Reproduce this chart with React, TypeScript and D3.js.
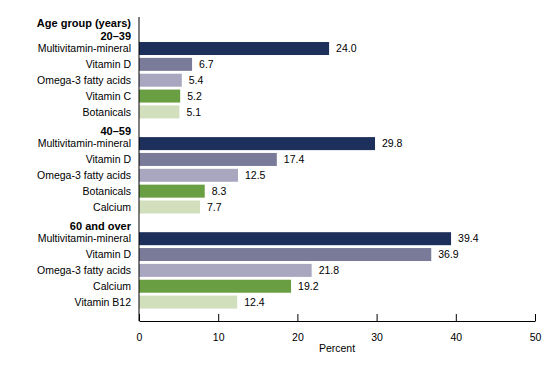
import React, { useEffect, useRef } from "react";
import { select, scaleBand, scaleLinear, axisBottom } from "d3";

const groups = ["20–39", "40–59", "60 and over"];
const supplements = [
  ["Multivitamin-mineral", "Vitamin D", "Omega-3 fatty acids", "Vitamin C", "Botanicals"],
  ["Multivitamin-mineral", "Vitamin D", "Omega-3 fatty acids", "Botanicals", "Calcium"],
  ["Multivitamin-mineral", "Vitamin D", "Omega-3 fatty acids", "Calcium", "Vitamin B12"],
];
const percents = [
  [24.0, 6.7, 5.4, 5.2, 5.1],
  [29.8, 17.4, 12.5, 8.3, 7.7],
  [39.4, 36.9, 21.8, 19.2, 12.4],
];
const xTicks = [0, 10, 20, 30, 40, 50];
const colors = ["#1d2f5b", "#7a7b99", "#a9a7c0", "#6a9e42", "#d1dfbd"];

const App = () => {
  const svgRef = useRef<SVGSVGElement>(null);

  useEffect(() => {
    const svg = select(svgRef.current);
    svg.selectAll("*").remove();
    const left = 139;
    const right = 535;
    const axisY = 321;
    const font = "Liberation Sans, Arial, sans-serif";
    const fs = 10.5;

    // one slot for the title, then a header slot + 5 bar slots per group
    const rows: { key: string; type: string; g: number; i: number }[] = [];
    rows.push({ key: "title", type: "title", g: -1, i: -1 });
    groups.forEach((grp, g) => {
      rows.push({ key: "h" + g, type: "header", g, i: -1 });
      supplements[g].forEach((s, i) => rows.push({ key: g + "-" + i, type: "bar", g, i }));
    });

    const x = scaleLinear().domain([0, 50]).range([left, right]);
    const y = scaleBand()
      .domain(rows.map(r => r.key))
      .range([8.9, 310])
      .paddingInner(0.18)
      .paddingOuter(0.09);
    const bw = y.bandwidth();

    const g = svg.append("g");

    rows.forEach(r => {
      const yc = (y(r.key) as number) + bw / 2;
      if (r.type === "title") {
        g.append("text").attr("x", 131).attr("y", yc + 6).attr("dy", "0.35em")
          .attr("text-anchor", "end").attr("font-weight", "bold").attr("font-size", 11)
          .attr("font-family", font).attr("fill", "#000").text("Age group (years)");
      } else if (r.type === "header") {
        g.append("text").attr("x", 131).attr("y", yc + 3).attr("dy", "0.35em")
          .attr("text-anchor", "end").attr("font-weight", "bold").attr("font-size", 11)
          .attr("font-family", font).attr("fill", "#000").text(groups[r.g]);
      } else {
        const v = percents[r.g][r.i];
        g.append("rect").attr("x", x(0)).attr("y", y(r.key) as number)
          .attr("width", x(v) - x(0)).attr("height", bw).attr("fill", colors[r.i]);
        g.append("text").attr("x", 131).attr("y", yc).attr("dy", "0.35em")
          .attr("text-anchor", "end").attr("font-size", fs)
          .attr("font-family", font).attr("fill", "#000").text(supplements[r.g][r.i]);
        g.append("text").attr("x", x(v) + 7).attr("y", yc).attr("dy", "0.35em")
          .attr("font-size", fs).attr("font-family", font).attr("fill", "#000")
          .text(v.toFixed(1));
      }
    });

    // y axis line
    g.append("line").attr("x1", left).attr("x2", left).attr("y1", 17).attr("y2", axisY)
      .attr("stroke", "#000").attr("stroke-width", 1);

    const xAxis = axisBottom(x).tickValues(xTicks).tickSize(-7).tickPadding(13).tickSizeOuter(0);
    const ax = svg.append("g").attr("transform", `translate(0,${axisY})`).call(xAxis);
    ax.select(".domain").attr("stroke", "#000");
    ax.selectAll(".tick line").attr("stroke", "#000");
    ax.selectAll(".tick text").attr("font-size", fs).attr("font-family", font).attr("fill", "#000");

    svg.append("text").attr("x", (left + right) / 2).attr("y", 348).attr("dy", "0.35em")
      .attr("text-anchor", "middle").attr("font-size", fs).attr("font-family", font)
      .attr("fill", "#000").text("Percent");
  }, []);

  return (
    <svg ref={svgRef} width={560} height={368}
      style={{ position: "absolute", left: 0, top: 0, background: "#fff" }} />
  );
};

export default App;
